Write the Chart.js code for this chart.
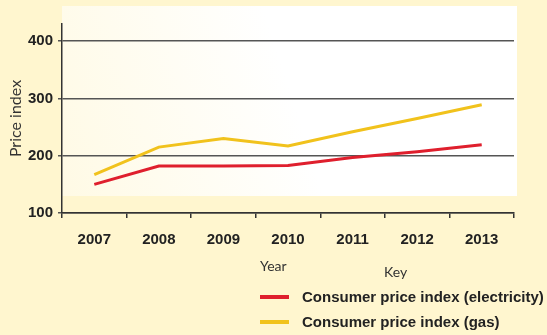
<!DOCTYPE html>
<html>
<head>
<meta charset="utf-8">
<script src="https://cdn.jsdelivr.net/npm/chart.js@4.4.1/dist/chart.umd.min.js"></script>
<style>
  html, body { margin: 0; padding: 0; background: #fff6cf; }
  #wrap { position: relative; width: 547px; height: 335px; overflow: hidden; }
  #chart { position: absolute; left: 0; top: 0; }
  .lbl { position: absolute; font-family: "Lato", "Open Sans", sans-serif; font-size: 14px; color: #333; }
  .key { position: absolute; left: 260px; display: flex; align-items: center; }
  .key span.sw { display: inline-block; width: 29px; height: 4px; margin-right: 13px; }
  .key span.tx { font-family: "Liberation Sans Narrow", "Arial Narrow", sans-serif; font-weight: bold; font-size: 15px; color: #222; }
</style>
</head>
<body>
<div id="wrap">
  <canvas id="chart" width="547" height="335"></canvas>
  <div class="lbl" style="left:260px; top:257px;">Year</div>
  <div class="lbl" style="left:384px; top:263px;">Key</div>
  <div id="legend"></div>
</div>
<script>
const years = ["2007", "2008", "2009", "2010", "2011", "2012", "2013"];
const electricity = [150, 182, 182, 183, 197, 207, 219];
const gas = [167, 215, 230, 217, 242, 265, 289];
const yTicks = [100, 200, 300, 400];

const seriesNames = ["Consumer price index (electricity)", "Consumer price index (gas)"];
const seriesColors = ["#df1f2d", "#f1c21c"];

// white panel behind the plot, fading into the yellow at bottom left
const panel = {
  id: "panel",
  beforeDraw(chart) {
    const ctx = chart.ctx;
    ctx.save();
    ctx.fillStyle = "#ffffff";
    ctx.fillRect(62, 6, 455, 190);
    const g = ctx.createLinearGradient(62, 196, 300, 120);
    g.addColorStop(0, "rgba(255,246,207,0.55)");
    g.addColorStop(1, "rgba(255,246,207,0)");
    ctx.fillStyle = g;
    ctx.fillRect(62, 6, 455, 190);
    ctx.restore();
  },
};

const tickFont = { family: "'Liberation Sans Narrow', 'Liberation Sans', sans-serif", weight: "bold", size: 15 };

new Chart(document.getElementById("chart"), {
  type: "line",
  data: {
    labels: years,
    datasets: [
      {
        label: seriesNames[0],
        data: electricity,
        borderColor: seriesColors[0],
        borderWidth: 3,
        pointRadius: 0,
        tension: 0,
      },
      {
        label: seriesNames[1],
        data: gas,
        borderColor: seriesColors[1],
        borderWidth: 3,
        pointRadius: 0,
        tension: 0,
      },
    ],
  },
  options: {
    responsive: false,
    animation: false,
    layout: { padding: { top: 24, right: 33, left: 0, bottom: 0 } },
    plugins: { legend: { display: false }, tooltip: { enabled: false } },
    scales: {
      x: {
        offset: true,
        grid: {
          offset: true,
          drawOnChartArea: false,
          color: "#333",
          lineWidth: 1.5,
          tickLength: 5,
        },
        border: { color: "#333", width: 1.5 },
        ticks: { color: "#222", padding: 13, font: tickFont },
        afterFit(scale) {
          scale.height = 122;
        },
      },
      y: {
        min: 100,
        max: 430,
        afterBuildTicks(scale) {
          scale.ticks = yTicks.map((v) => ({ value: v }));
        },
        grid: { color: "#555", lineWidth: 1.5, tickLength: 4 },
        border: { color: "#333", width: 1.5 },
        ticks: { color: "#222", padding: 5, font: tickFont },
        title: {
          display: true,
          text: "Price index",
          color: "#333",
          padding: { top: 6, bottom: 0 },
          font: { family: "Lato, 'Open Sans', sans-serif", size: 16 },
        },
        afterFit(scale) {
          scale.width = 62;
        },
      },
    },
  },
  plugins: [panel],
});

// legend rows built from the series
const legend = document.getElementById("legend");
seriesNames.forEach((name, i) => {
  const row = document.createElement("div");
  row.className = "key";
  row.style.top = (288 + i * 25) + "px";
  row.innerHTML = '<span class="sw" style="background:' + seriesColors[i] + '"></span><span class="tx">' + name + "</span>";
  legend.appendChild(row);
});
</script>
</body>
</html>
